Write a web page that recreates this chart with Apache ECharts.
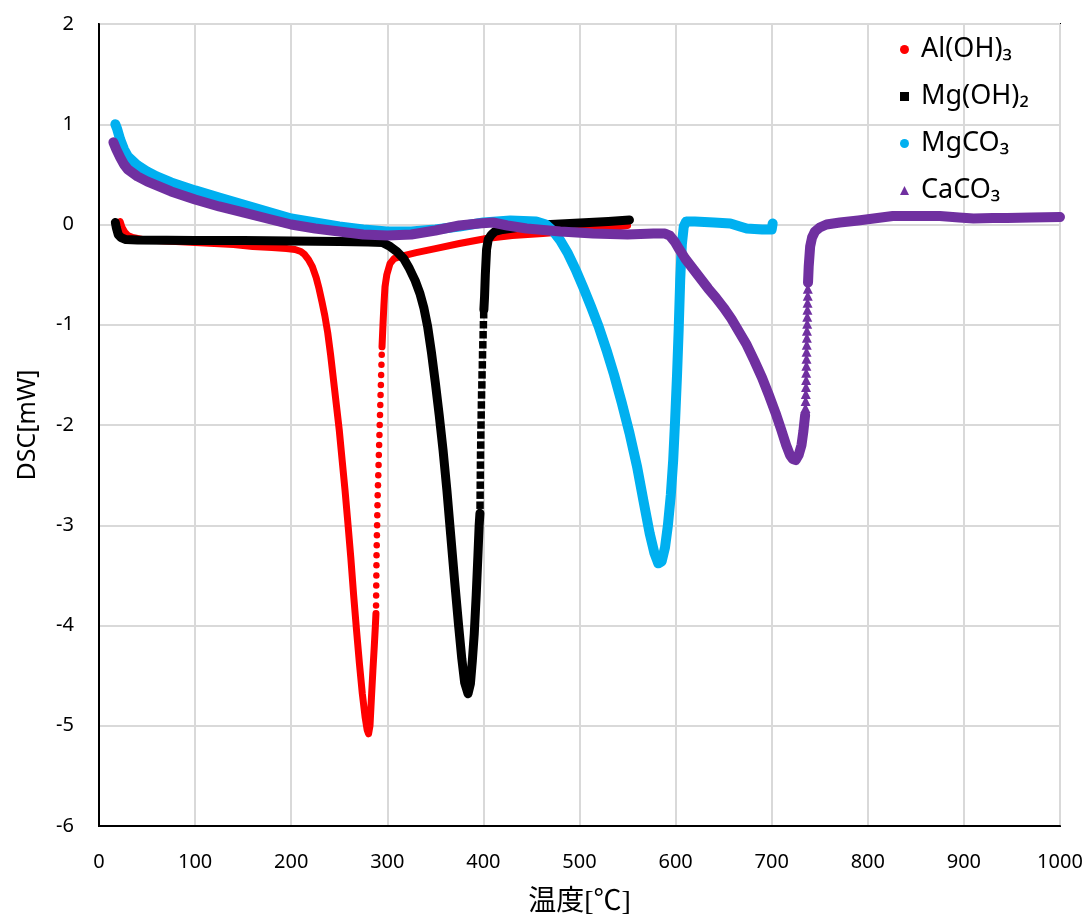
<!DOCTYPE html>
<html>
<head>
<meta charset="utf-8">
<script src="https://cdn.jsdelivr.net/npm/echarts@6/dist/echarts.min.js"></script>
<style>
  html, body { margin: 0; padding: 0; background: #ffffff; }
  #chart { width: 1091px; height: 922px; }
</style>
</head>
<body>
<div id="chart"></div>
<script>
// DSC heat-flow curves of four hydroxides / carbonates, temperature [°C] vs DSC [mW]

const seriesNames = ['Al(OH)₃', 'Mg(OH)₂', 'MgCO₃', 'CaCO₃'];
const seriesColors = ['#ff0000', '#000000', '#00b0f0', '#7030a0'];

// Al(OH)3: dense part before the fast recovery, sparse dots, dense part after
const alBefore = [
  [22, 0.03], [24, -0.03], [27, -0.08], [30, -0.11], [35, -0.13], [45, -0.15], [60, -0.16],
  [80, -0.17], [100, -0.18], [120, -0.19], [140, -0.20], [160, -0.22], [180, -0.23],
  [195, -0.24], [204, -0.25], [210, -0.27], [214, -0.30], [218, -0.35], [222, -0.42],
  [226, -0.53], [229, -0.64], [232, -0.77], [235, -0.91], [238, -1.08], [241, -1.3],
  [244, -1.55], [247, -1.8], [250, -2.05], [253, -2.35], [256, -2.65], [259, -2.98],
  [262, -3.32], [265, -3.7], [268, -4.05], [271, -4.38], [274, -4.68], [277, -4.92],
  [279, -5.04], [280.5, -5.08], [282, -5.0], [283.5, -4.72], [285, -4.45], [286.5, -4.2],
  [287.5, -4.02], [288.2, -3.88]
];
const alDots = [
  [288.3, -3.8], [288.4, -3.7], [288.5, -3.6], [288.6, -3.5], [288.7, -3.4], [288.8, -3.3],
  [289.0, -3.2], [289.2, -3.1], [289.4, -3.0], [289.6, -2.9], [289.8, -2.8], [290.0, -2.7],
  [290.3, -2.6], [290.6, -2.5], [290.9, -2.4], [291.2, -2.3], [291.5, -2.2], [291.8, -2.1],
  [292.1, -2.0], [292.4, -1.9], [292.7, -1.8], [293.0, -1.7], [293.3, -1.6], [293.6, -1.5],
  [293.9, -1.4], [294.2, -1.3]
];
const alAfter = [
  [294.5, -1.22], [295.5, -1.0], [296.5, -0.8], [297.6, -0.62], [299.5, -0.5], [302.8, -0.39],
  [307, -0.34], [313, -0.32], [330, -0.28], [350, -0.24], [375, -0.19], [403, -0.14],
  [430, -0.11], [462, -0.09], [500, -0.06], [520, -0.04], [542, -0.02], [550, -0.01]
];

// Mg(OH)2
const mgohBefore = [
  [17, 0.02], [18, -0.03], [20, -0.10], [23, -0.13], [28, -0.15], [40, -0.155], [100, -0.16],
  [150, -0.16], [200, -0.165], [250, -0.17], [280, -0.175], [295, -0.18], [303, -0.22],
  [310, -0.27], [317, -0.34], [323, -0.44], [329, -0.56], [334, -0.69], [338, -0.83],
  [342, -1.02], [346, -1.28], [350, -1.58], [354, -1.9], [358, -2.25], [362, -2.65],
  [366, -3.1], [370, -3.55], [374, -3.98], [377.5, -4.33], [380.5, -4.57], [384, -4.68],
  [386.5, -4.58], [388.5, -4.35], [390.5, -4.08], [392.5, -3.7], [394.3, -3.3],
  [395.6, -3.0], [396.4, -2.88]
];
const mgohDots = [
  [396.5, -2.8], [396.6, -2.7], [396.7, -2.6], [396.8, -2.5], [396.9, -2.4], [397.0, -2.3],
  [397.2, -2.2], [397.3, -2.1], [397.5, -2.0], [397.7, -1.9], [397.9, -1.8], [398.1, -1.7],
  [398.4, -1.6], [398.6, -1.5], [398.9, -1.4], [399.1, -1.3], [399.4, -1.2], [399.7, -1.1],
  [400.0, -1.0], [400.3, -0.9]
];
const mgohAfter = [
  [400.5, -0.85], [401.2, -0.72], [402, -0.5], [403.3, -0.25], [405, -0.15], [408.5, -0.10],
  [412, -0.07], [420, -0.05], [435, -0.03], [450, -0.01], [470, 0.0], [500, 0.015],
  [530, 0.03], [552, 0.045]
];

// MgCO3
const mgco3Data = [
  [17, 1.0], [19, 0.95], [22, 0.85], [26, 0.75], [30, 0.68], [40, 0.59], [50, 0.53],
  [60, 0.48], [75, 0.42], [100, 0.34], [125, 0.27], [150, 0.20], [175, 0.13], [200, 0.06],
  [225, 0.02], [250, -0.02], [275, -0.05], [300, -0.07], [325, -0.07], [350, -0.05],
  [375, -0.02], [400, 0.02], [428, 0.04], [455, 0.03], [465, 0.0], [472, -0.06],
  [480, -0.16], [488, -0.29], [496, -0.45], [504, -0.63], [512, -0.82], [520, -1.02],
  [528, -1.25], [536, -1.5], [544, -1.78], [552, -2.08], [560, -2.42], [567, -2.78],
  [573, -3.08], [578, -3.28], [582, -3.38], [585.5, -3.36], [589, -3.22], [592, -3.0],
  [595, -2.7], [597.5, -2.35], [599.5, -1.95], [601.5, -1.5], [603.2, -1.05], [604.8, -0.55],
  [606.5, -0.2], [608.5, -0.02], [611, 0.03], [620, 0.03], [640, 0.02], [657, 0.01],
  [667, -0.02], [674, -0.04], [690, -0.05], [700, -0.05], [701, 0.01]
];

// CaCO3: dense part, sparse triangles on the steep recovery, dense part
const caBefore = [
  [15, 0.82], [18, 0.75], [22, 0.67], [26, 0.60], [30, 0.55], [40, 0.48], [50, 0.43],
  [60, 0.39], [75, 0.33], [100, 0.25], [125, 0.18], [150, 0.12], [175, 0.06], [200, 0.0],
  [225, -0.04], [250, -0.07], [275, -0.10], [300, -0.11], [325, -0.10], [350, -0.06],
  [375, -0.01], [395, 0.01], [410, 0.02], [425, -0.01], [445, -0.04], [480, -0.07],
  [514, -0.09], [550, -0.10], [577, -0.09], [589, -0.09], [594, -0.11], [599, -0.17],
  [604, -0.25], [610, -0.34], [618, -0.44], [626, -0.54], [634, -0.64], [642, -0.73],
  [650, -0.83], [658, -0.94], [666, -1.07], [674, -1.2], [682, -1.36], [690, -1.53],
  [697, -1.7], [704, -1.88], [710, -2.05], [715, -2.2], [719, -2.3], [722, -2.34],
  [725, -2.35], [728, -2.3], [731, -2.2], [733, -2.06], [734.8, -1.9]
];
const caDots = [
  [735.1, -1.83], [735.3, -1.76], [735.5, -1.69], [735.7, -1.62], [735.8, -1.55],
  [735.9, -1.48], [736.1, -1.41], [736.2, -1.34], [736.3, -1.27], [736.5, -1.20],
  [736.6, -1.13], [736.7, -1.06], [736.9, -0.99], [737.0, -0.92], [737.2, -0.85],
  [737.3, -0.78], [737.5, -0.71], [737.6, -0.64]
];
const caAfter = [
  [737.8, -0.58], [738.5, -0.42], [740, -0.22], [742, -0.13], [745, -0.07], [750, -0.03],
  [757, 0.0], [771, 0.02], [790, 0.04], [806, 0.06], [826, 0.085], [850, 0.085],
  [875, 0.085], [895, 0.07], [910, 0.06], [930, 0.065], [945, 0.065], [970, 0.07],
  [1000, 0.075]
];

const xMin = 0, xMax = 1000, xStep = 100;
const yMin = -6, yMax = 2, yStep = 1;

function band(name, color, width, data) {
  return {
    name, type: 'line', data, color,
    symbol: 'none', showSymbol: false, clip: false, smooth: false,
    lineStyle: { color, width, cap: 'round', join: 'round' },
    emphasis: { disabled: true }
  };
}
function dots(name, color, symbol, size, data) {
  return {
    name, type: 'scatter', data, color, symbol, symbolSize: size, clip: false,
    itemStyle: { color, opacity: 1 },
    emphasis: { disabled: true }
  };
}

const chart = echarts.init(document.getElementById('chart'), null, { renderer: 'canvas' });
chart.setOption({
  animation: false,
  backgroundColor: '#ffffff',
  grid: {
    left: 99, right: 31, top: 24, bottom: 96,
    show: true, borderColor: '#000000', borderWidth: 2, backgroundColor: 'transparent',
    outerBoundsMode: 'none'
  },
  legend: {
    orient: 'vertical',
    left: 895, top: 31,
    itemWidth: 9, itemHeight: 9, itemGap: 20,
    data: [
      { name: seriesNames[0], icon: 'circle' },
      { name: seriesNames[1], icon: 'rect' },
      { name: seriesNames[2], icon: 'circle' },
      { name: seriesNames[3], icon: 'triangle' }
    ],
    formatter: n => '{t|' + n + '}',
    textStyle: {
      color: '#000000',
      rich: { t: { fontFamily: 'Noto Sans', fontSize: 27, lineHeight: 30, padding: [0, 0, 0, 7], color: '#000000' } }
    },
    selectedMode: false
  },
  xAxis: {
    type: 'value', min: xMin, max: xMax, interval: xStep,
    name: '温度[℃]', nameLocation: 'middle', nameGap: 63,
    nameTextStyle: { fontFamily: 'Liberation Serif, Noto Sans CJK JP', fontSize: 28, color: '#000000' },
    axisLine: { show: true, onZero: false, lineStyle: { color: '#000000', width: 2 } },
    axisTick: { show: false },
    axisLabel: { margin: 26, fontFamily: 'Noto Sans', fontSize: 20, color: '#000000', formatter: v => String(v) },
    splitLine: { show: true, lineStyle: { color: '#d9d9d9', width: 2 } }
  },
  yAxis: {
    type: 'value', min: yMin, max: yMax, interval: yStep,
    name: 'DSC[mW]', nameLocation: 'middle', nameGap: 59, nameRotate: 90,
    nameTextStyle: { fontFamily: 'Noto Sans', fontSize: 25, color: '#000000' },
    axisLine: { show: true, onZero: false, lineStyle: { color: '#000000', width: 2 } },
    axisTick: { show: false },
    axisLabel: { margin: 25, fontFamily: 'Noto Sans', fontSize: 20, color: '#000000', formatter: v => String(v) },
    splitLine: { show: true, lineStyle: { color: '#d9d9d9', width: 2 } }
  },
  series: [
    band(seriesNames[0], seriesColors[0], 7, alBefore),
    dots(seriesNames[0], seriesColors[0], 'circle', 6.5, alDots),
    band(seriesNames[0], seriesColors[0], 7, alAfter),
    band(seriesNames[1], seriesColors[1], 9, mgohBefore),
    dots(seriesNames[1], seriesColors[1], 'rect', 7.5, mgohDots),
    band(seriesNames[1], seriesColors[1], 9, mgohAfter),
    band(seriesNames[2], seriesColors[2], 10, mgco3Data),
    band(seriesNames[3], seriesColors[3], 10, caBefore),
    dots(seriesNames[3], seriesColors[3], 'triangle', 10, caDots),
    band(seriesNames[3], seriesColors[3], 10, caAfter)
  ]
});
</script>
</body>
</html>
